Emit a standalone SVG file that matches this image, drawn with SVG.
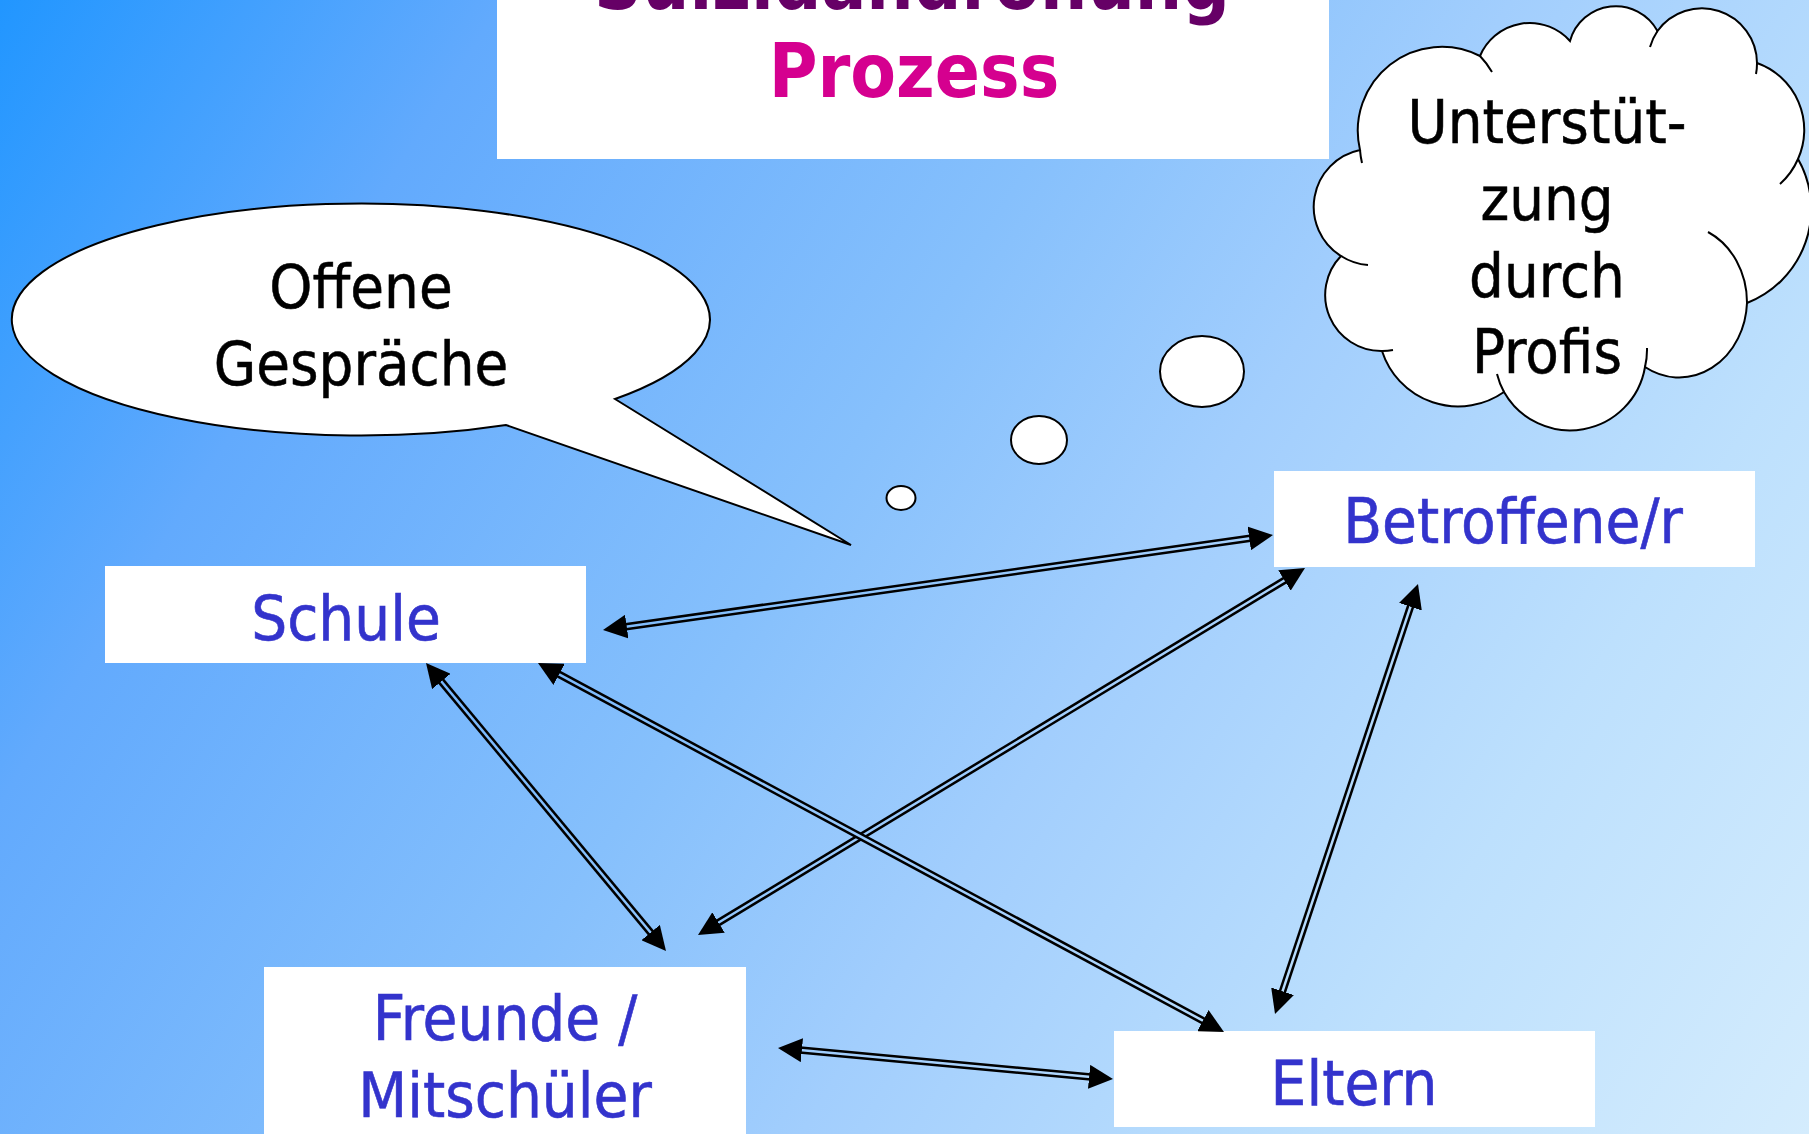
<svg xmlns="http://www.w3.org/2000/svg" width="1809" height="1134" viewBox="0 0 1809 1134">
<defs>
<linearGradient id="bg" gradientUnits="userSpaceOnUse" x1="0" y1="0" x2="1809" y2="1134">
<stop offset="0" stop-color="#2196ff"/>
<stop offset="0.2" stop-color="#62aafd"/>
<stop offset="0.45" stop-color="#86c0fc"/>
<stop offset="0.6" stop-color="#a2cefd"/>
<stop offset="0.8" stop-color="#bde0fd"/>
<stop offset="1" stop-color="#d4ecfd"/>
</linearGradient>
<marker id="ah" viewBox="0 0 24 24" refX="24" refY="12" markerWidth="24" markerHeight="24" markerUnits="userSpaceOnUse" orient="auto-start-reverse">
<path d="M0,0 L24,12 L0,24 Z" fill="#000"/>
</marker>
<style>
.box{fill:#fff;stroke:none}
.shape{fill:#fff;stroke:#000;stroke-width:2}
.inner{fill:none;stroke:#000;stroke-width:2}
.lbl{font-family:'DejaVu Sans Condensed','DejaVu Sans',Verdana,sans-serif;font-stretch:condensed;font-size:63px;fill:#3333cc;stroke:#3333cc;stroke-width:0.6;text-anchor:middle}
.blk{font-family:'DejaVu Sans Condensed','DejaVu Sans',Verdana,sans-serif;font-stretch:condensed;font-size:61px;fill:#000;stroke:#000;stroke-width:0.5;text-anchor:middle}
.ttl{font-family:'DejaVu Sans Condensed','DejaVu Sans',Verdana,sans-serif;font-stretch:condensed;font-weight:bold;font-size:74px;text-anchor:middle}
.ln{fill:none;stroke:#000;stroke-width:7.5}
.gap{fill:none;stroke:url(#bg);stroke-width:2.5}
.hd{fill:none;stroke:none;marker-start:url(#ah);marker-end:url(#ah)}
</style>
</defs>
<rect x="0" y="0" width="1809" height="1134" fill="url(#bg)"/>

<g id="title">
<rect class="box" x="497" y="0" width="832" height="159"/>
<text class="ttl" x="912" y="9" fill="#660066">Suizidandrohung</text>
<text class="ttl" x="914" y="97" fill="#d5008f">Prozess</text>
</g>

<g id="speech">
<path class="shape" d="M615,399 L851,545 L506,425 A349,116 0 1 1 615,399 Z"/>
<text class="blk" x="361" y="308">Offene</text>
<text class="blk" x="361" y="385">Gespräche</text>
</g>

<g id="thought">
<ellipse class="shape" cx="901" cy="498" rx="14.5" ry="12" stroke-width="2.5"/>
<ellipse class="shape" cx="1039" cy="440" rx="28" ry="24" stroke-width="2.5"/>
<ellipse class="shape" cx="1202" cy="371.5" rx="42" ry="35.5" stroke-width="2.5"/>
</g>

<g id="cloud">
<path class="shape" d="M1360,150 A84,84 0 0 1 1480,56 A54,54 0 0 1 1570,41 A47.5,47.5 0 0 1 1657.5,31 A55,55 0 0 1 1757,63 A71,71 0 0 1 1798,159 A101,101 0 0 1 1747,303 A68,78 0 0 1 1645,367 A76,76 0 0 1 1504,392 A80,80 0 0 1 1382,351 A56,56 0 0 1 1341,256 A58,58 0 0 1 1360,150 Z"/>
<path class="inner" d="M1480,56 A84,84 0 0 1 1492,72 M1650,47 A55,55 0 0 1 1657.5,31 M1757,63 A55,55 0 0 1 1756,74 M1798,159 A71,71 0 0 1 1780,184 M1708,232 A68,78 0 0 1 1747,303 M1647,348 A76,76 0 0 1 1645,367 M1504,392 A76,76 0 0 1 1497,374 M1393,350 A56,56 0 0 1 1382,351 M1368,265 A58,58 0 0 1 1341,256 M1362,163 A84,84 0 0 1 1360,150"/>
<text class="blk" x="1547" y="143">Unterstüt-</text>
<text class="blk" x="1547" y="220">zung</text>
<text class="blk" x="1547" y="297">durch</text>
<text class="blk" x="1547" y="373">Profis</text>
</g>

<g id="betroffene">
<rect class="box" x="1274" y="471" width="481" height="96"/>
<text class="lbl" x="1513" y="543">Betroffene/r</text>
</g>

<g id="schule">
<rect class="box" x="105" y="566" width="481" height="97"/>
<text class="lbl" x="346" y="640">Schule</text>
</g>

<g id="freunde">
<rect class="box" x="264" y="967" width="482" height="170"/>
<text class="lbl" x="505" y="1040">Freunde /</text>
<text class="lbl" x="505" y="1117">Mitschüler</text>
</g>

<g id="eltern">
<rect class="box" x="1114" y="1031" width="481" height="96"/>
<text class="lbl" x="1354" y="1105">Eltern</text>
</g>

<g id="connectors">
<path class="ln" d="M616.9,628 L1259.1,537"/>
<path class="gap" d="M616.9,628 L1259.1,537"/>
<path class="hd" d="M603,630 L1273,535"/>

<path class="ln" d="M710,927.8 L1293,575.2"/>
<path class="gap" d="M710,927.8 L1293,575.2"/>
<path class="hd" d="M698,935 L1305,568"/>

<path class="ln" d="M434.96,673.75 L657.04,940.25"/>
<path class="gap" d="M434.96,673.75 L657.04,940.25"/>
<path class="hd" d="M426,663 L666,951"/>

<path class="ln" d="M550.3,669.6 L1211.7,1025.4"/>
<path class="gap" d="M550.3,669.6 L1211.7,1025.4"/>
<path class="hd" d="M538,663 L1224,1032"/>

<path class="ln" d="M1413.6,597.3 L1279.4,1000.7"/>
<path class="gap" d="M1413.6,597.3 L1279.4,1000.7"/>
<path class="hd" d="M1418,584 L1275,1014"/>

<path class="ln" d="M791.9,1049.3 L1099.1,1077.7"/>
<path class="gap" d="M791.9,1049.3 L1099.1,1077.7"/>
<path class="hd" d="M778,1048 L1113,1079"/>
</g>
</svg>
